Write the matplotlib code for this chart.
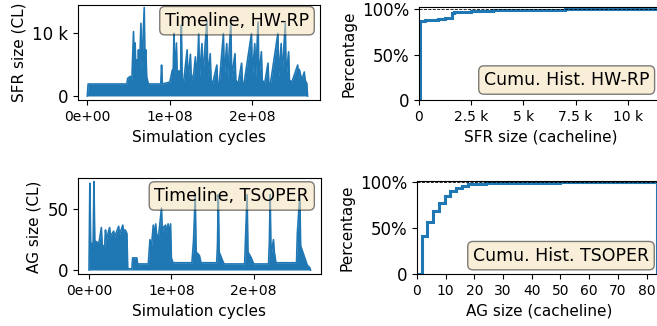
import numpy as np
import matplotlib
matplotlib.use('Agg')
import matplotlib.pyplot as plt
from matplotlib.ticker import EngFormatter, FuncFormatter, MultipleLocator

# timeline HW-RP: time in Mcycles, SFR size in k cachelines
hw_t = [0, 1, 47, 48, 49, 52, 54, 56, 57, 58, 59, 60, 61, 62, 63, 65, 66, 69, 70, 71, 72, 74,
        89, 90, 91, 100, 103, 104, 105, 106, 108, 109, 111, 112, 113, 114, 115, 117, 121, 122,
        125, 126, 129, 131, 133, 135, 136, 139, 140, 145, 146, 149, 150, 152, 157, 158, 160,
        165, 166, 169, 170, 174, 175, 179, 180, 183, 187, 188, 190, 199, 200, 203, 204, 207,
        208, 211, 212, 215, 219, 220, 222, 231, 232, 235, 236, 240, 241, 244, 245, 248, 255,
        256, 257, 260, 263, 264, 266, 267]
hw_v = [0, 1.9, 1.9, 2.0, 2.8, 3.1, 2.5, 10.2, 3.0, 8.4, 3.0, 5.7, 3.0, 7.3, 3.0, 11.5, 4.0,
        14.0, 4.0, 7.3, 3.0, 1.9, 1.9, 4.9, 1.9, 2.2, 4.1, 3.0, 9.9, 3.0, 8.4, 3.0, 4.0, 2.5,
        3.0, 11.2, 2.5, 2.5, 7.3, 2.5, 6.6, 2.5, 3.5, 6.2, 2.5, 9.9, 3.0, 8.3, 3.0, 12.0, 3.0,
        6.7, 2.5, 2.0, 4.9, 2.0, 2.0, 9.9, 3.0, 8.3, 3.0, 11.5, 3.0, 6.7, 2.5, 2.0, 5.2, 2.0,
        2.0, 9.9, 3.0, 8.3, 3.0, 11.7, 3.0, 7.0, 2.5, 2.0, 5.2, 2.0, 2.0, 9.9, 3.0, 8.3, 3.0,
        11.5, 3.0, 7.0, 2.5, 2.2, 4.9, 2.5, 4.2, 2.5, 3.8, 2.5, 2.0, 0]

# timeline TSOPER: time in Mcycles, AG size in cachelines
ts_t = [0, 1, 2, 5, 6, 7, 12, 15, 16, 19, 20, 21, 25, 26, 30, 31, 36, 37, 41, 42, 44, 46, 47,
        52, 53, 58, 59, 72, 74, 76, 78, 79, 81, 82, 84, 88, 89, 90, 93, 94, 96, 97, 99, 100,
        102, 125, 127, 129, 130, 134, 136, 155, 156, 157, 158, 162, 164, 189, 190, 192, 193,
        197, 200, 218, 219, 220, 221, 224, 225, 227, 252, 253, 256, 257, 261, 265, 268, 269]
ts_v = [0, 71.4, 22, 22, 72.8, 24, 22, 35, 20, 20, 33, 25, 35, 28, 32, 27, 36, 29, 37, 32, 33,
        30, 1, 1, 10, 10, 5, 5, 25, 20, 37, 28, 38, 30, 25, 51, 30, 35, 37, 30, 38, 30, 38, 10,
        6, 6, 25, 62, 15, 12, 6, 6, 20, 62, 15, 8, 5, 5, 25, 62, 15, 10, 5, 5, 22, 62, 12, 25,
        15, 6, 6, 30, 62, 20, 12, 4, 2, 0]

# cumulative histograms (bin edges, cumulative fraction)
sfr_edges = [40, 300, 600, 900, 1100, 1250, 1400, 1560, 1700, 1960, 2500, 3560, 5000, 7000, 14000]
sfr_cdf = [0.872, 0.876, 0.880, 0.885, 0.890, 0.898, 0.905, 0.953, 0.965, 0.972, 0.978, 0.985,
           0.990, 1.0]
ag_edges = [0, 1.6, 3.6, 5.6, 7.6, 9.6, 11.6, 13.6, 15.6, 17.6, 19.6, 24, 35, 50, 83.5]
ag_cdf = [0, 0.41, 0.571, 0.687, 0.77, 0.85, 0.905, 0.94, 0.964, 0.978, 0.985, 0.993, 0.997, 1.0]

blue = '#1f77b4'
box = dict(boxstyle='round', facecolor='wheat', alpha=0.5)
plt.rcParams['axes.labelsize'] = 11
plt.rcParams['xtick.labelsize'] = 10
plt.rcParams['ytick.labelsize'] = 12

fig = plt.figure(figsize=(6.57, 3.26), dpi=100)
ax1 = fig.add_axes([0.1187, 0.692, 0.3683, 0.2926])
ax2 = fig.add_axes([0.6377, 0.6933, 0.37, 0.2846])
ax3 = fig.add_axes([0.1187, 0.1583, 0.3696, 0.2947])
ax4 = fig.add_axes([0.6347, 0.1595, 0.373, 0.2868])

cyc = lambda x, p: '%.0e' % x

# top left: HW-RP timeline
t = np.array(hw_t) * 1e6
v = np.array(hw_v) * 1e3
ax1.fill_between(t, 0, v, color=blue, lw=0)
ax1.plot(t, v, color=blue, lw=1.2)
ax1.set_xlim(-0.113e8, 2.82e8)
ax1.set_ylim(-700, 14400)
ax1.xaxis.set_major_locator(MultipleLocator(1e8))
ax1.xaxis.set_major_formatter(FuncFormatter(cyc))
ax1.set_yticks([0, 10000])
ax1.yaxis.set_major_formatter(EngFormatter())
ax1.set_xlabel('Simulation cycles')
ax1.set_ylabel('SFR size (CL)')
ax1.text(0.955, 0.93, 'Timeline, HW-RP', transform=ax1.transAxes, ha='right', va='top',
         fontsize=12.5, bbox=box)

# top right: HW-RP cumulative histogram
ax2.stairs(sfr_cdf, sfr_edges, baseline=0, color=blue, lw=2.2)
ax2.axhline(1, color='k', ls='--', lw=0.6)
ax2.set_xlim(0, 11640)
ax2.set_ylim(0, 1.02)
ax2.set_xticks([0, 2500, 5000, 7500, 10000])
ax2.xaxis.set_major_formatter(EngFormatter())
ax2.set_yticks([0, 0.5, 1])
ax2.set_yticklabels(['0', '50%', '100%'])
ax2.set_xlabel('SFR size (cacheline)')
ax2.set_ylabel('Percentage')
ax2.text(0.948, 0.118, 'Cumu. Hist. HW-RP', transform=ax2.transAxes, ha='right', va='bottom',
         fontsize=12.5, bbox=box)

# bottom left: TSOPER timeline
t = np.array(ts_t) * 1e6
v = np.array(ts_v)
ax3.fill_between(t, 0, v, color=blue, lw=0)
ax3.plot(t, v, color=blue, lw=1.2)
ax3.set_xlim(-0.134e8, 2.815e8)
ax3.set_ylim(-3.6, 75.5)
ax3.xaxis.set_major_locator(MultipleLocator(1e8))
ax3.xaxis.set_major_formatter(FuncFormatter(cyc))
ax3.set_yticks([0, 50])
ax3.set_xlabel('Simulation cycles')
ax3.set_ylabel('AG size (CL)')
ax3.text(0.952, 0.91, 'Timeline, TSOPER', transform=ax3.transAxes, ha='right', va='top',
         fontsize=12.5, bbox=box)

# bottom right: TSOPER cumulative histogram
ax4.stairs(ag_cdf, ag_edges, baseline=0, color=blue, lw=2.2)
ax4.axhline(1, color='k', ls='--', lw=0.6)
ax4.set_xlim(0, 85.4)
ax4.set_ylim(0, 1.02)
ax4.set_xticks(range(0, 81, 10))
ax4.set_yticks([0, 0.5, 1])
ax4.set_yticklabels(['0', '50%', '100%'])
ax4.set_xlabel('AG size (cacheline)')
ax4.set_ylabel('Percentage')
ax4.text(0.947, 0.1, 'Cumu. Hist. TSOPER', transform=ax4.transAxes, ha='right', va='bottom',
         fontsize=12.5, bbox=box)

fig.savefig('out.png', dpi=100)
